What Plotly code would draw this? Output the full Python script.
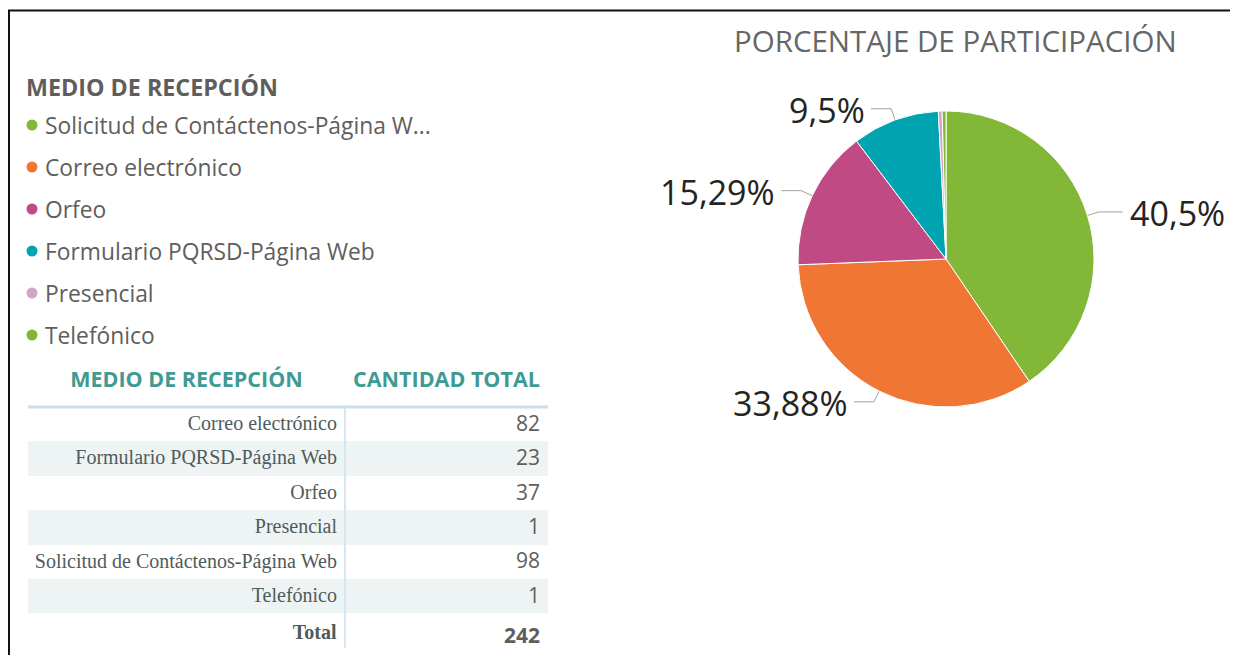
import math
import plotly.graph_objects as go

# ---------------- data ----------------
CATEGORIES = ["Correo electrónico", "Formulario PQRSD-Página Web", "Orfeo",
              "Presencial", "Solicitud de Contáctenos-Página Web", "Telefónico"]
VALUES = [82, 23, 37, 1, 98, 1]
CAT_COLORS = ["#EF7733", "#00A3B0", "#C04B84", "#CFA6C8", "#82B737", "#82B737"]
TITLE = "PORCENTAJE DE PARTICIPACIÓN"
LEGEND_TITLE = "MEDIO DE RECEPCIÓN"
TABLE_HEADERS = ["MEDIO DE RECEPCIÓN", "CANTIDAD TOTAL"]
TOTAL_LABEL = "Total"

# ---------------- layout helpers ----------------
OFF = 8            # body margin of the html page
W, H = 1222, 647   # figure size
SANS = "Open Sans"
SERIF = "Liberation Serif"
NB = "\u00a0"


def px(x):
    return (x - OFF) / W


def py(y):
    return 1 - (y - OFF) / H


def nowrap(s):
    return s.replace(" ", NB)


total = sum(VALUES)
# pie / legend order: descending by value (stable)
order = sorted(range(len(VALUES)), key=lambda i: -VALUES[i])
pie_labels = [CATEGORIES[i] for i in order]
pie_values = [VALUES[i] for i in order]
pie_colors = [CAT_COLORS[i] for i in order]

fig = go.Figure()

# ---------------- pie ----------------
CX, CY, R = 946, 259, 148
fig.add_trace(go.Pie(
    labels=pie_labels, values=pie_values, sort=False, direction="clockwise",
    rotation=0, marker=dict(colors=pie_colors, line=dict(color="white", width=1)),
    textinfo="none", hoverinfo="label+value+percent", showlegend=False,
    domain=dict(x=[px(CX - R), px(CX + R)], y=[py(CY + R), py(CY - R)]),
))

# ---------------- overlay pixel axes ----------------
fig.update_layout(
    xaxis=dict(range=[OFF, OFF + W], visible=False, fixedrange=True, domain=[0, 1]),
    yaxis=dict(range=[OFF + H, OFF], visible=False, fixedrange=True, domain=[0, 1]),
)

annotations = []
# leader lines + labels
cum = 0.0
for lab, val in zip(pie_labels, pie_values):
    frac = val / total
    mid = (cum + frac / 2) * 2 * math.pi
    cum += frac
    if frac < 0.02:
        continue
    sx, sy = math.sin(mid), -math.cos(mid)
    p0 = (CX + R * sx, CY + R * sy)
    p1 = (CX + (R + 12) * sx, CY + (R + 12) * sy)
    right = sx >= 0
    p2 = (p1[0] + (24 if right else -20), p1[1])
    fig.add_trace(go.Scatter(x=[p0[0], p1[0], p2[0]], y=[p0[1], p1[1], p2[1]],
                             mode="lines", line=dict(color="#A0A0A0", width=1),
                             hoverinfo="skip", showlegend=False))
    pct = f"{frac * 100:.2f}".rstrip("0").rstrip(".").replace(".", ",") + "%"
    annotations.append(dict(
        x=p2[0] + (5 if right else -4), y=p2[1] + 1, xref="x", yref="y",
        text=pct, showarrow=False, xanchor="left" if right else "right",
        yanchor="middle", font=dict(family=SANS, size=34, color="#252423")))

# title
annotations.append(dict(x=955, y=40, xref="x", yref="y", text=TITLE, showarrow=False,
                        xanchor="center", yanchor="middle",
                        font=dict(family=SANS, size=29.5, color="#666666")))

# ---------------- legend (manual) ----------------
LEG_X, LEG_Y0, LEG_DY = 32, 125, 42
annotations.append(dict(x=24, y=87, xref="x", yref="y", text="<b>" + LEGEND_TITLE + "</b>",
                        showarrow=False, xanchor="left", yanchor="middle",
                        font=dict(family=SANS, size=23.3, color="#605E5C")))


def trunc(s, n=33):
    return s if len(s) <= n else s[:n] + "..."


leg_y = [LEG_Y0 + LEG_DY * k for k in range(len(pie_labels))]
fig.add_trace(go.Scatter(x=[LEG_X] * len(pie_labels), y=leg_y, mode="markers",
                         marker=dict(size=11, color=pie_colors), hoverinfo="skip",
                         showlegend=False))
for lab, yy in zip(pie_labels, leg_y):
    annotations.append(dict(x=LEG_X + 11, y=yy, xref="x", yref="y", text=trunc(lab),
                            showarrow=False, xanchor="left", yanchor="middle",
                            font=dict(family=SANS, size=22.8, color="#605E5C")))

# ---------------- table ----------------
T_X0, T_X1, T_DIV = 28, 548, 345
T_Y0, T_Y1 = 356, 655
HEAD_H, ROW_H = 51, 34.4
col1 = [nowrap(c) for c in CATEGORIES] + ["<b>" + TOTAL_LABEL + "</b>"]
col2 = [str(v) for v in VALUES] + ["<b>" + str(total) + "</b>"]
row_fill = ["white" if k % 2 == 0 else "#EEF4F4" for k in range(len(col1))]
row_fill[-1] = "white"
fig.add_trace(go.Table(
    domain=dict(x=[px(T_X0), px(T_X1)], y=[py(T_Y1), py(T_Y0)]),
    columnwidth=[T_DIV - T_X0, T_X1 - T_DIV],
    header=dict(values=["<b>" + nowrap(h) + "</b>" for h in TABLE_HEADERS],
                align=["center", "center"],
                fill=dict(color="white"), line=dict(color="rgba(0,0,0,0)", width=0),
                font=dict(family=SANS, size=21.5, color="#3E9A92"), height=HEAD_H),
    cells=dict(values=[col1, col2], align=["right", "right"],
               fill=dict(color=[row_fill, row_fill]),
               line=dict(color="rgba(0,0,0,0)", width=0),
               font=dict(family=[SERIF, SANS], size=[20, 21], color=["#4F5B5B", "#605E5C"]),
               height=ROW_H),
))

shapes = [
    # frame
    dict(type="line", xref="x", yref="y", x0=OFF, x1=OFF + W, y0=10.5, y1=10.5,
         line=dict(color="#111111", width=2)),
    dict(type="line", xref="x", yref="y", x0=9, x1=9, y0=10, y1=OFF + H,
         line=dict(color="#111111", width=2)),
    # table header rule and divider
    dict(type="line", xref="x", yref="y", x0=T_X0, x1=T_X1, y0=T_Y0 + HEAD_H, y1=T_Y0 + HEAD_H,
         line=dict(color="#C7E0EF", width=3)),
    dict(type="line", xref="x", yref="y", x0=T_DIV, x1=T_DIV, y0=T_Y0 + HEAD_H,
         y1=T_Y0 + HEAD_H + ROW_H * len(col1), line=dict(color="#D3E6F1", width=2)),
]

fig.update_layout(
    width=W, height=H, autosize=False,
    margin=dict(l=0, r=0, t=0, b=0, pad=0),
    paper_bgcolor="white", plot_bgcolor="rgba(0,0,0,0)",
    annotations=annotations, shapes=shapes, showlegend=False,
)

fig.write_html("out.html")
